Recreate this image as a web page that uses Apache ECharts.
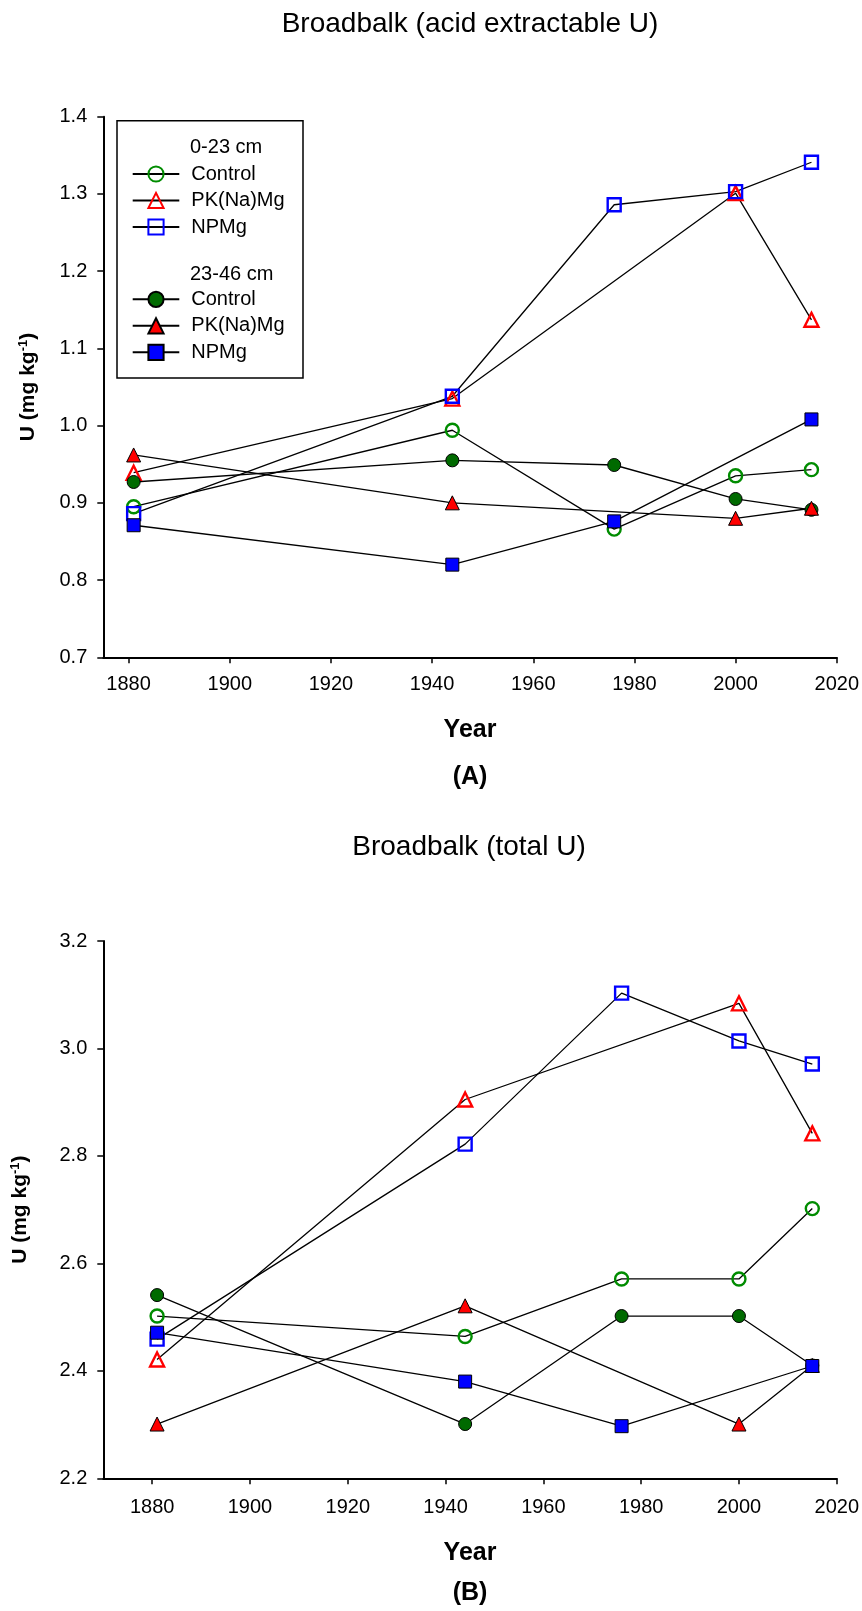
<!DOCTYPE html>
<html>
<head>
<meta charset="utf-8">
<script src="https://cdn.jsdelivr.net/npm/echarts@6/dist/echarts.min.js"></script>
<style>
  html, body { margin: 0; padding: 0; background: #fff; }
  #chart { width: 862px; height: 1611px; }
</style>
</head>
<body>
<div id="chart"></div>
<script>
// Sampling years on Broadbalk
const years = [1881, 1944, 1976, 2000, 2015];
const yearTicks = [1880, 1900, 1920, 1940, 1960, 1980, 2000, 2020];

// Acid extractable U (mg kg-1), null = not sampled
const acidControlTop = [0.895, 0.994, 0.866, 0.935, 0.943];
const acidPKTop      = [0.939, 1.035, null, 1.301, 1.137];
const acidNPTop      = [0.886, 1.038, 1.286, 1.303, 1.341];
const acidControlSub = [0.927, 0.955, 0.949, 0.905, 0.891];
const acidPKSub      = [0.962, 0.900, null, 0.880, 0.893];
const acidNPSub      = [0.871, 0.820, 0.876, null, 1.008];

// Total U (mg kg-1)
const totalControlTop = [2.502, 2.464, 2.571, 2.571, 2.702];
const totalPKTop      = [2.421, 2.905, null, 3.084, 2.842];
const totalNPTop      = [2.459, 2.822, 3.103, 3.014, 2.971];
const totalControlSub = [2.541, 2.301, 2.502, 2.502, 2.410];
const totalPKSub      = [2.301, 2.521, null, 2.301, 2.410];
const totalNPSub      = [2.471, 2.380, 2.297, null, 2.409];

const FONT = '"Liberation Sans", Arial, Helvetica, sans-serif';

const pairs = vals => years.map((y, i) => [y, vals[i]]).filter(p => p[1] != null);

const GREEN_OPEN = '#008c00';
const GREEN_FILL = '#006a00';
const RED = '#ff0000';
const BLUE = '#0000ff';
const NONE = 'rgba(0,0,0,0)';

// marker styles per treatment / depth
const styles = {
  'Control (0-23 cm)':  { symbol: 'circle',   size: 13, itemStyle: { color: NONE, borderColor: GREEN_OPEN, borderWidth: 2.4 } },
  'PK(Na)Mg (0-23 cm)': { symbol: 'triangle', size: 14, itemStyle: { color: NONE, borderColor: RED, borderWidth: 2.4 } },
  'NPMg (0-23 cm)':     { symbol: 'rect',     size: 13, itemStyle: { color: NONE, borderColor: BLUE, borderWidth: 2.4 } },
  'Control (23-46 cm)': { symbol: 'circle',   size: 13, itemStyle: { color: GREEN_FILL, borderColor: '#000', borderWidth: 1 } },
  'PK(Na)Mg (23-46 cm)':{ symbol: 'triangle', size: 14, itemStyle: { color: RED, borderColor: '#000', borderWidth: 1 } },
  'NPMg (23-46 cm)':    { symbol: 'rect',     size: 13, itemStyle: { color: BLUE, borderColor: '#000', borderWidth: 1 } }
};

function makeSeries(name, vals, idx) {
  const s = styles[name];
  return {
    name: name,
    type: 'line',
    xAxisIndex: idx,
    yAxisIndex: idx,
    data: pairs(vals),
    symbol: s.symbol,
    symbolSize: s.size,
    showAllSymbol: true,
    itemStyle: s.itemStyle,
    lineStyle: { color: '#000', width: 1.3 },
    emphasis: { disabled: true },
    z: 2
  };
}

const series = [
  makeSeries('Control (0-23 cm)', acidControlTop, 0),
  makeSeries('PK(Na)Mg (0-23 cm)', acidPKTop, 0),
  makeSeries('NPMg (0-23 cm)', acidNPTop, 0),
  makeSeries('Control (23-46 cm)', acidControlSub, 0),
  makeSeries('PK(Na)Mg (23-46 cm)', acidPKSub, 0),
  makeSeries('NPMg (23-46 cm)', acidNPSub, 0),
  makeSeries('Control (0-23 cm)', totalControlTop, 1),
  makeSeries('PK(Na)Mg (0-23 cm)', totalPKTop, 1),
  makeSeries('NPMg (0-23 cm)', totalNPTop, 1),
  makeSeries('Control (23-46 cm)', totalControlSub, 1),
  makeSeries('PK(Na)Mg (23-46 cm)', totalPKSub, 1),
  makeSeries('NPMg (23-46 cm)', totalNPSub, 1)
];

function xAxis(idx, min, labelMargin, nameGap) {
  return {
    type: 'value', gridIndex: idx, min: min, max: 2020,
    name: 'Year', nameLocation: 'middle', nameGap: nameGap,
    nameTextStyle: { fontSize: 25, fontWeight: 'bold', color: '#000', fontFamily: FONT },
    axisLine: { show: true, onZero: false, lineStyle: { color: '#000', width: 2 } },
    axisTick: { show: true, length: 6, lineStyle: { color: '#000', width: 1.5 }, customValues: yearTicks },
    axisLabel: {
      fontSize: 20, color: '#000', fontFamily: FONT, margin: labelMargin,
      customValues: yearTicks, formatter: v => String(v)
    },
    splitLine: { show: false }
  };
}

function yAxis(idx, min, max, interval, nameGap) {
  return {
    type: 'value', gridIndex: idx, min: min, max: max, interval: interval,
    name: '{a|U (mg kg}{s|-1}{a|)}', nameLocation: 'middle', nameRotate: 90, nameGap: nameGap,
    nameTextStyle: {
      rich: {
        a: { fontSize: 21, fontWeight: 'bold', color: '#000', fontFamily: FONT },
        s: { fontSize: 13, fontWeight: 'bold', color: '#000', fontFamily: FONT, verticalAlign: 'top' }
      }
    },
    axisLine: { show: true, onZero: false, lineStyle: { color: '#000', width: 2 } },
    axisTick: { show: true, length: 6, lineStyle: { color: '#000', width: 1.5 } },
    axisLabel: { fontSize: 20, color: '#000', fontFamily: FONT, margin: 16, formatter: v => v.toFixed(1) },
    splitLine: { show: false }
  };
}

const legendCommon = {
  orient: 'vertical', left: 131.7, padding: 0,
  itemWidth: 46.6, itemHeight: 19, itemGap: 6.5,
  selectedMode: false,
  formatter: n => n.replace(/ \([^)]*cm\)$/, ''),
  textStyle: { fontSize: 20, color: '#000', fontFamily: FONT, lineHeight: 20, padding: [0, 0, 0, 7] }
};

const textEl = (text, x, y, size, weight) => ({
  type: 'text', x: x, y: y, z: 10,
  style: {
    text: text, fill: '#000', fontSize: size, fontWeight: weight || 'normal', fontFamily: FONT,
    align: 'center', verticalAlign: 'middle', textAlign: 'center', textVerticalAlign: 'middle'
  }
});
const leftText = (text, x, y, size) => ({
  type: 'text', x: x, y: y, z: 10,
  style: {
    text: text, fill: '#000', fontSize: size, fontFamily: FONT,
    align: 'left', verticalAlign: 'middle', textAlign: 'left', textVerticalAlign: 'middle'
  }
});

const option = {
  animation: false,
  backgroundColor: '#fff',
  grid: [
    { left: 103.3, top: 116.7, width: 733.7, height: 540.6 },
    { left: 103.3, top: 941, width: 733.7, height: 537.3 }
  ],
  xAxis: [xAxis(0, 1875, 17, 60), xAxis(1, 1870, 19, 62)],
  yAxis: [yAxis(0, 0.7, 1.4, 0.1, 65), yAxis(1, 2.2, 3.2, 0.2, 73)],
  legend: [
    Object.assign({}, legendCommon, { top: 164, data: ['Control (0-23 cm)', 'PK(Na)Mg (0-23 cm)', 'NPMg (0-23 cm)'] }),
    Object.assign({}, legendCommon, { top: 289.3, data: ['Control (23-46 cm)', 'PK(Na)Mg (23-46 cm)', 'NPMg (23-46 cm)'] })
  ],
  graphic: [
    textEl('Broadbalk (acid extractable U)', 470, 24, 28),
    textEl('(A)', 470, 777, 25, 'bold'),
    textEl('Broadbalk (total U)', 469, 847, 28),
    textEl('(B)', 470, 1593, 25, 'bold'),
    {
      type: 'rect', z: 9,
      shape: { x: 117, y: 120.7, width: 186, height: 257.3 },
      style: { fill: 'none', stroke: '#000', lineWidth: 1.5 }
    },
    leftText('0-23 cm', 190, 147.7, 20),
    leftText('23-46 cm', 190, 274, 20)
  ],
  series: series
};

const chart = echarts.init(document.getElementById('chart'), null, { renderer: 'canvas' });
chart.setOption(option);
</script>
</body>
</html>
